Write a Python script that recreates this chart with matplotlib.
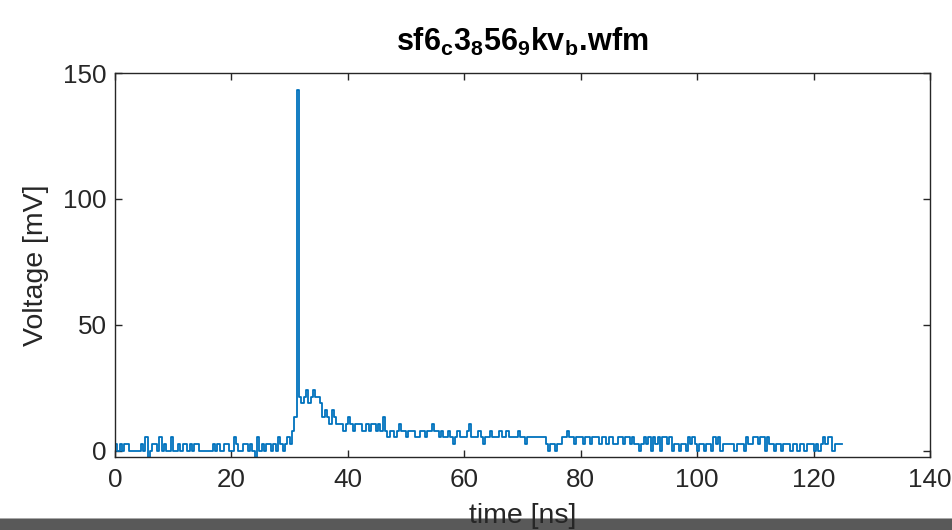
import matplotlib
matplotlib.use("Agg")
import matplotlib.pyplot as plt
import numpy as np
from matplotlib.patches import Rectangle

plt.rcParams['font.family'] = ['Liberation Sans', 'DejaVu Sans']
plt.rcParams['mathtext.fontset'] = 'custom'
plt.rcParams['mathtext.rm'] = 'Liberation Sans'
plt.rcParams['mathtext.bf'] = 'Liberation Sans:bold'

# scope samples, in ADC codes (1 code ~ 2.7 mV), sampled every 0.4 ns
lsb_mv = 2.7
dt_ns = 0.4

codes_pre = [1, 0, 1, 0, 1, 1,
             0, 0, 0, 0, 0,
             1, 0, 2, -1, 0, 1, 1, 0, 2, 0, 1, 0,
             0, 2, 0, 0,
             1, 0, 1, 1, 0, 1, 0, 1, 1, 0,
             0, 0, 0, 0, 0,
             1, 0, 1, 0, 0, 1, 1, 0, 0, 2, 1, 0, 0,
             1, 1, 0, 1, 0, -1, 2, 0, 1, 0, 1, 1, 0, 1, 0, 2, 1, 0, 1]
codes_rise = [2, 1, 3, 5]
codes_peak = [53]
codes_tail1 = [8, 7, 8, 9, 7, 8, 9, 8, 8, 7]
codes_tail2 = [5, 6, 5, 4, 6, 5, 4]
codes_tail3 = [4, 4, 3, 4, 5, 4, 3, 4, 4, 4, 3, 3, 4, 3, 4, 4, 3, 4]
codes_tail4 = [3, 5, 3, 2, 3, 3, 2, 3, 4, 3, 3, 2, 3, 3, 3, 2, 2, 3, 3, 2,
               3, 3, 4, 3, 3]
codes_tail5 = [2, 3, 2, 2, 3, 2, 1, 2, 3, 2, 2, 2, 3, 4, 2, 2, 2, 3, 2, 1,
               2, 2, 3, 2, 2, 2, 3, 2, 2, 3, 2, 2, 2, 2, 3, 2, 2, 1, 2, 2,
               2, 2]
codes_tail6 = [2, 2, 2, 2, 1, 0, 1, 1, 0, 1]
codes_tail7 = [1, 2, 2, 3, 2, 2, 1, 2, 2, 2, 1, 2, 2, 1, 2, 2, 2, 1, 2, 2,
               1, 2, 2, 1, 1, 2, 2, 1, 2, 2]
codes_tail8 = [1, 2, 1, 1, 0, 1, 2, 1,
               2, 0, 2, 1, 2, 0, 2, 2, 1, 2, 0,
               1, 1, 0, 1, 1, 0,
               2, 1, 2,
               1, 0, 1, 1, 0, 1, 1, 0,
               2, 1, 2, 0, 1,
               1, 1, 1, 1, 0, 1, 1, 1,
               0, 2, 1, 1,
               2, 2, 1, 2, 2, 0, 2, 1,
               1, 0, 1, 1, 0, 1, 1, 1, 0, 1, 1, 0, 1, 1, 0, 1, 1, 1, 0, 1, 0, 1,
               2, 1, 2, 2, 0,
               1, 1, 1, 1]

codes = np.array(codes_pre + codes_rise + codes_peak + codes_tail1 + codes_tail2
                 + codes_tail3 + codes_tail4 + codes_tail5 + codes_tail6
                 + codes_tail7 + codes_tail8)
voltage = codes * lsb_mv
time = np.arange(len(codes)) * dt_ns

x_ticks = [0, 20, 40, 60, 80, 100, 120, 140]
y_ticks = [0, 50, 100, 150]

fig = plt.figure(figsize=(9.52, 5.3), dpi=100)
ax = fig.add_axes([115 / 952, (530 - 457) / 530, (930 - 115) / 952, (457 - 73) / 530])

ax.plot(time, voltage, color='#0072BD', lw=1.3, drawstyle='steps-post')

ax.set_xlim(0, 140)
ax.set_ylim(-2.4, 150)
ax.set_xticks(x_ticks)
ax.set_yticks(y_ticks)

ink = '#262626'
for s in ax.spines.values():
    s.set_color(ink)
    s.set_linewidth(1.0)
ax.tick_params(direction='in', length=5, width=1.0, color=ink, labelcolor=ink,
               labelsize=18.7, top=True, right=True)
ax.tick_params(axis='x', pad=8)
ax.tick_params(axis='y', pad=6)

ax.set_xlabel('time [ns]', fontsize=20.5, color=ink, labelpad=8)
ax.set_ylabel('Voltage [mV]', fontsize=20.5, color=ink, labelpad=10)
ax.set_title(r'$\mathbf{sf6_{c}3_{8}56_{9}kv_{b}.\!wfm}$', fontsize=22,
             color='black', pad=16)

# dark strip across the bottom of the window, behind the axis label
fig.patches.append(Rectangle((0, 0), 1, 11 / 530, transform=fig.transFigure,
                             facecolor='#595959', edgecolor='none', zorder=-1))
fig.patches.append(Rectangle((0, 11 / 530), 1, 1 / 530, transform=fig.transFigure,
                             facecolor='#a8a8a8', edgecolor='none', zorder=-1))

fig.savefig('out.png', dpi=100)
